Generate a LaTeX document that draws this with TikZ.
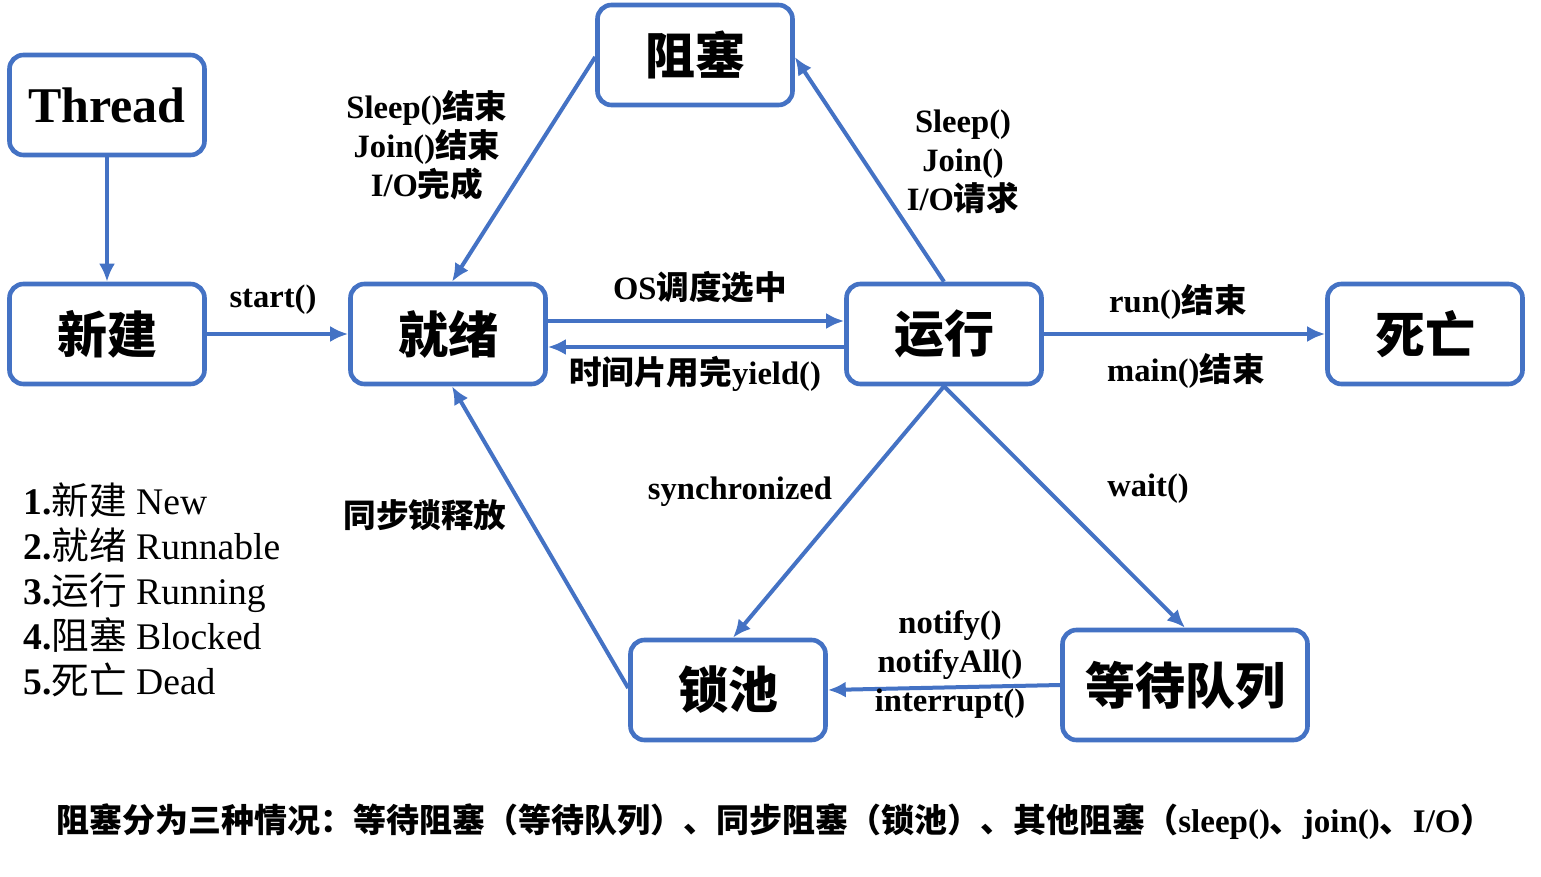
\documentclass[tikz,border=0pt]{standalone}
\usepackage{fontspec}
\setmainfont{Liberation Serif}
\newfontfamily\cjk{Noto Sans CJK SC}
\usetikzlibrary{arrows.meta}
\definecolor{bordo}{HTML}{4472C4}
\newcommand{\zh}[1]{{\cjk #1}}

\begin{document}
\begin{tikzpicture}[x=0.5pt, y=-0.5pt,
    stato/.style={draw=bordo, line width=2.3pt, rounded corners=7pt, fill=white,
      minimum width=97.5pt, minimum height=50pt, inner sep=0pt,
      font=\bfseries\fontsize{25}{29}\selectfont},
    freccia/.style={draw=bordo, line width=2pt, -{Latex[length=9pt,width=8pt]}},
    etich/.style={font=\bfseries\fontsize{16.3}{19.5}\selectfont, align=center, inner sep=0pt}]
    \useasboundingbox (0,0) rectangle (1541,877);
    % STATI
    \node[stato] (T) at (107,105) {Thread};
    \node[stato] (N) at (107,334) {\zh{新建}};
    \node[stato] (R) at (448,334) {\zh{就绪}};
    \node[stato] (B) at (695,55) {\zh{阻塞}};
    \node[stato] (E) at (944,334) {\zh{运行}};
    \node[stato] (D) at (1425,334) {\zh{死亡}};
    \node[stato] (L) at (728,690) {\zh{锁池}};
    \node[stato, minimum width=122.5pt, minimum height=55pt] (W) at (1185,685) {\zh{等待队列}};
    % TRANSIZIONI
    \draw[freccia] (T) -- (N);
    \draw[freccia] (N) -- (R);
    \draw[freccia] ([yshift=6.5pt]R.east) -- ([yshift=6.5pt]E.west);
    \draw[freccia] ([yshift=-6.5pt]E.west) -- ([yshift=-6.5pt]R.east);
    \draw[freccia] (E.north) -- ([yshift=-1pt]B.east);
    \draw[freccia] ([yshift=-1pt]B.west) -- ([xshift=2pt]R.north);
    \draw[freccia] (E) -- (D);
    \draw[freccia] (E.south) -- ([xshift=2.5pt]L.north);
    \draw[freccia] (E.south) -- (W.north);
    \draw[freccia] (W.west) -- (L.east);
    \draw[freccia] ([yshift=1pt]L.west) -- ([xshift=2pt]R.south);
    % ETICHETTE
    \node[etich] (a) at (273,300) {start()};
    \node[etich] (b) at (700,287) {OS\zh{调度选中}};
    \node[etich] (c) at (695,374) {\zh{时间片用完}yield()};
    \node[etich] (d) at (963,162) {Sleep()\\Join()\\I/O\zh{请求}};
    \node[etich] (e) at (427,145) {Sleep()\zh{结束}\\Join()\zh{结束}\\I/O\zh{完成}};
    \node[etich] (f) at (1178,302) {run()\zh{结束}};
    \node[etich] (g) at (1186,371) {main()\zh{结束}};
    \node[etich] (h) at (740,492) {synchronized};
    \node[etich] (i) at (1148,489) {wait()};
    \node[etich] (j) at (950,664) {notify()\\notifyAll()\\interrupt()};
    \node[etich] (k) at (425,515) {\zh{同步锁释放}};
    % LEGENDA
    \node[anchor=west, align=left, inner sep=0pt, font=\fontsize{18.8}{22.5}\selectfont] (leg) at (23,590)
      {{\bfseries 1.}\zh{新建} New\\{\bfseries 2.}\zh{就绪} Runnable\\{\bfseries 3.}\zh{运行} Running\\
       {\bfseries 4.}\zh{阻塞} Blocked\\{\bfseries 5.}\zh{死亡} Dead};
    \node[etich, font=\bfseries\fontsize{16.5}{19.5}\selectfont] (nota) at (775,822)
      {\zh{阻塞分为三种情况：等待阻塞（等待队列）、同步阻塞（锁池）、其他阻塞（}sleep()\zh{、}join()\zh{、}I/O\zh{）}};
\end{tikzpicture}
\end{document}
